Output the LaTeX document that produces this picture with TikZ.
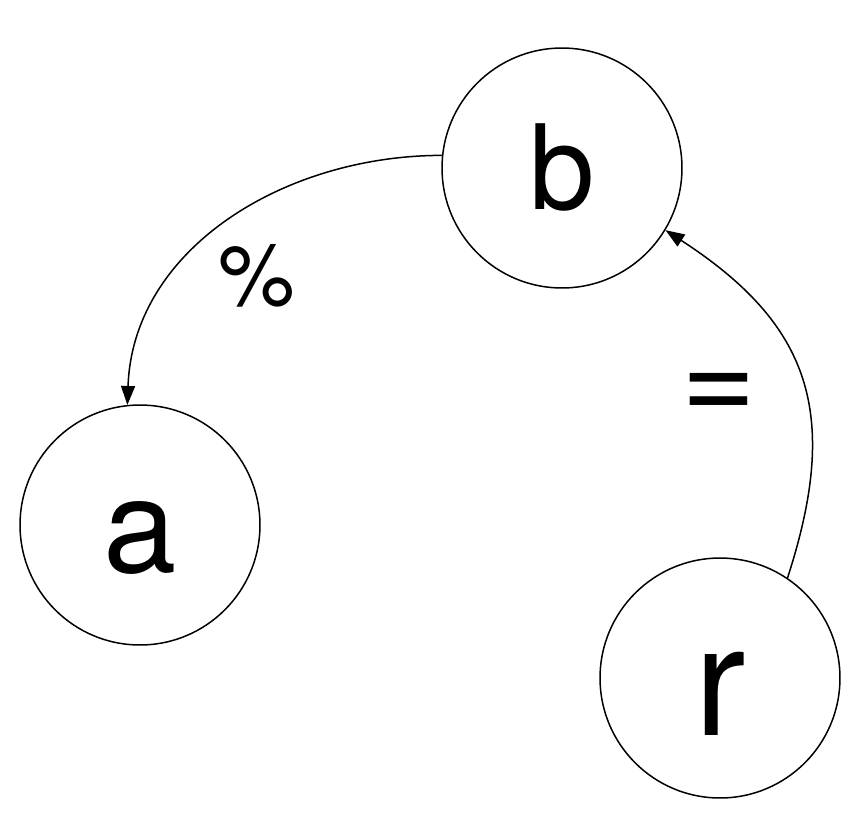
\documentclass[tikz,border=0pt]{standalone}
\usepackage{fontspec}
\setmainfont{TeX Gyre Heros}
\usetikzlibrary{positioning,arrows.meta}

\begin{document}
\begin{tikzpicture} [
	x=0.02cm,y=-0.02cm,
	vertex/.style={
		circle,draw=black,line width=0.03cm,
		inner sep=0pt,text depth=0pt,
		minimum size=4.8cm},
	sign/.style={
		inner sep=0pt},
	tip/.style={
		-{Triangle[length=0.38cm,width=0.28cm]},line width=0.03cm}]
\useasboundingbox (0,0) rectangle (866,826);
\node [vertex,font=\fontsize{67}{67}\selectfont,text height=1.68cm]	(b) at (562,168)	{b};
\node [vertex,font=\fontsize{75}{75}\selectfont,text height=1.88cm]	(a) at (140,525)	{a};
\node [vertex,font=\fontsize{88}{88}\selectfont,text height=2.28cm]	(r) at (720,678)	{r};
\node [sign,font=\fontsize{49}{49}\selectfont]	(percent) at (257,276)	{\%};
\node [sign,font=\fontsize{73}{73}\selectfont]	(equal) at (719,397)	{=};
\draw[tip] (b.174) to[out=180,in=88] (a.96);
\draw[tip] (r.56) to[out=72,in=-33,looseness=1.2] (b.-31);
\end{tikzpicture}
\end{document}
